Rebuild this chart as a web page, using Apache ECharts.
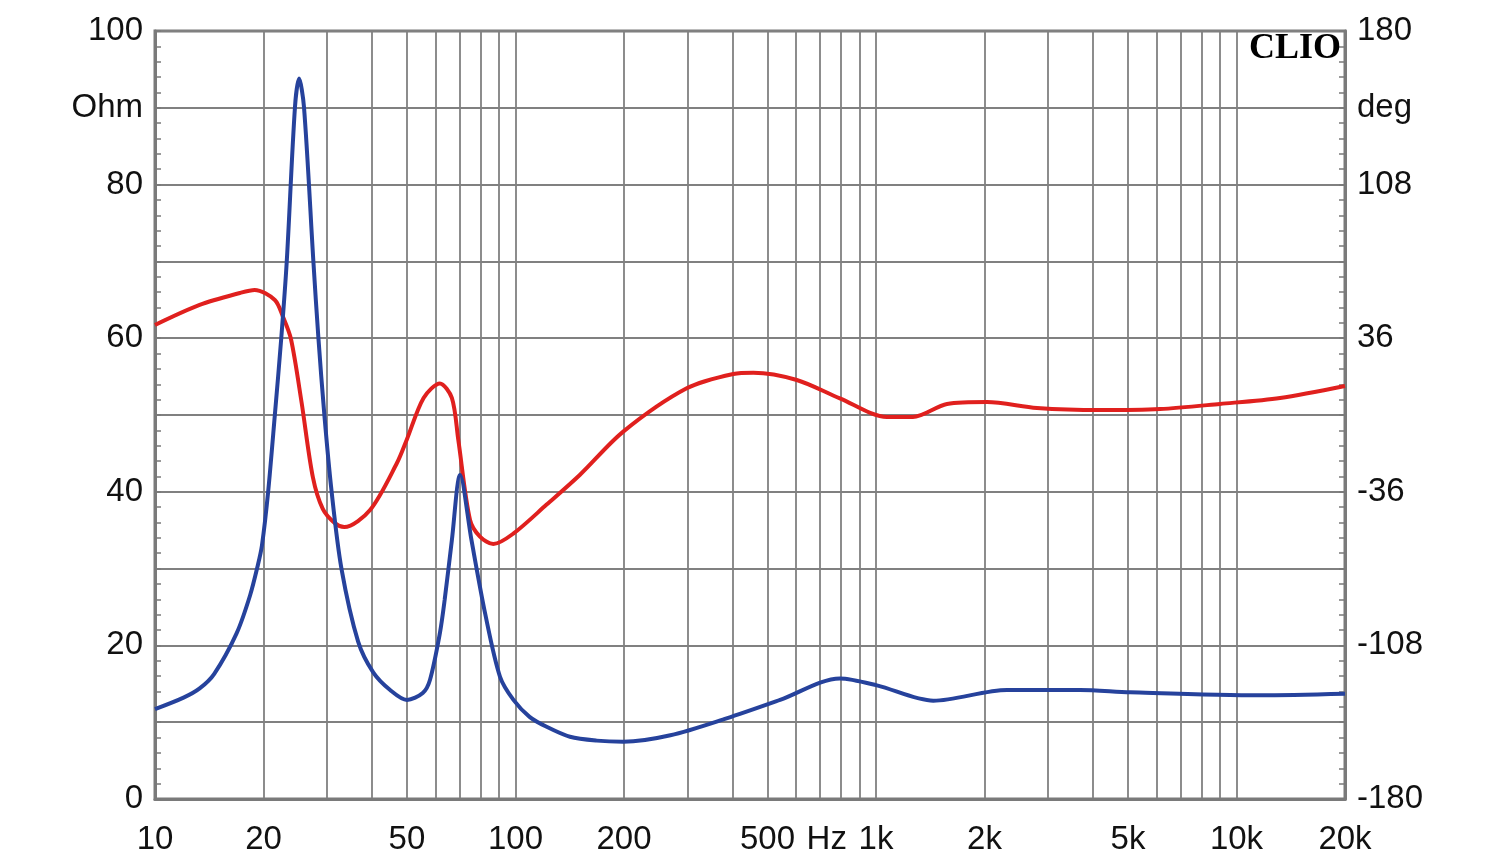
<!DOCTYPE html>
<html>
<head>
<meta charset="utf-8">
<script src="https://cdn.jsdelivr.net/npm/echarts@6/dist/echarts.min.js"></script>
<style>
html,body{margin:0;padding:0;background:#fff;}
#chart{width:1500px;height:864px;}
</style>
</head>
<body>
<div id="chart"></div>
<script>
// Impedance (Ohm) vs frequency (Hz)
const freqZ = [10, 12, 13.3, 14.6, 16.85, 18.35, 19.3, 19.8, 20.6, 21.5, 22.4, 23.2, 24.45, 25.1, 25.9, 27.5, 28.4, 29.5, 30.9, 32.9, 36.6, 40.3, 44.9, 50, 55.3, 57.9, 61.7, 63.6, 66.6, 70.2, 75.5, 82.5, 90.6, 98.7, 109.4, 122, 141.6, 168, 199, 269, 385, 542, 794, 1006, 1442, 2309, 3680, 5068, 11620, 20000];
const impedance = [11.7, 13.2, 14.4, 16.3, 21.6, 26.5, 30.5, 33, 40, 50, 60, 70, 90.1, 93.8, 90.1, 70, 60, 50, 40, 30, 20.5, 16.5, 14.2, 12.9, 13.8, 15.5, 21.6, 25.9, 33.7, 42.2, 33.7, 24, 15.9, 12.9, 10.7, 9.4, 8.1, 7.6, 7.46, 8.3, 10.5, 12.9, 15.7, 14.8, 12.8, 14.2, 14.2, 13.9, 13.5, 13.7];

// Phase (deg) vs frequency (Hz)
const freqP = [10, 13.3, 17.2, 18.9, 21.5, 22.65, 23.84, 25.5, 27.4, 29.2, 31.6, 33.5, 39.5, 46.9, 49.9, 55.6, 61.7, 66.6, 69.4, 74.8, 79.7, 86.8, 98.8, 122, 151, 199, 298.5, 402, 457, 603, 794, 1073, 1266, 1574, 2032, 2796, 4180, 6138, 8998, 13210, 20000];
const phase = [42.2, 51.6, 57.2, 58.6, 53.9, 46, 35.5, 6, -29, -44, -50.8, -52.5, -44.5, -22.5, -11.7, 8, 14.8, 8, -11.7, -49.2, -57, -60.5, -55.5, -42, -28, -7.8, 12.5, 19.2, 19.8, 16.4, 7.8, -0.9, -0.9, 5.2, 6.1, 3.3, 2.3, 2.8, 5.2, 8, 13.6];

// Axis ticks / labels
const xGridValues = [10,20,30,40,50,60,70,80,90,100,200,300,400,500,600,700,800,900,1000,2000,3000,4000,5000,6000,7000,8000,9000,10000,20000];
const xLabelValues = [10, 20, 50, 100, 200, 500, 730, 1000, 2000, 5000, 10000, 20000];
const xLabelTexts = ['10', '20', '50', '100', '200', '500', 'Hz', '1k', '2k', '5k', '10k', '20k'];
const leftLabelValues = [0, 20, 40, 60, 80, 90, 100];
const leftLabelTexts = ['0', '20', '40', '60', '80', 'Ohm', '100'];
const rightLabelValues = [-180, -108, -36, 36, 108, 144, 180];
const rightLabelTexts = ['-180', '-108', '-36', '36', '108', 'deg', '180'];

const zData = freqZ.map((f, i) => [f, impedance[i]]);
const pData = freqP.map((f, i) => [f, phase[i]]);

const gridColor = '#808080';
const axisColor = '#7a7a7a';
const labelFont = {color: '#111', fontSize: 33, fontFamily: '"Liberation Sans", Arial, sans-serif'};

const chart = echarts.init(document.getElementById('chart'), null, {renderer: 'canvas'});
chart.setOption({
  backgroundColor: '#ffffff',
  animation: false,
  grid: {left: 155, right: 155, top: 31, bottom: 65, show: true, borderColor: axisColor, borderWidth: 3, backgroundColor: 'transparent'},
  xAxis: {
    type: 'log', logBase: 10, min: 10, max: 20000,
    axisLine: {show: true, lineStyle: {color: axisColor, width: 3}},
    axisTick: {show: false, customValues: xGridValues},
    minorTick: {show: false},
    splitLine: {show: true, lineStyle: {color: gridColor, width: 1.8}},
    axisLabel: Object.assign({
      margin: 24,
      customValues: xLabelValues,
      formatter: function (v) {
        for (let i = 0; i < xLabelValues.length; i++) {
          if (Math.abs(xLabelValues[i] - v) / xLabelValues[i] < 1e-6) return xLabelTexts[i];
        }
        return '';
      }
    }, labelFont)
  },
  yAxis: [
    {
      type: 'value', min: 0, max: 100, interval: 10, position: 'left',
      axisLine: {show: true, lineStyle: {color: axisColor, width: 3}},
      axisTick: {show: true, inside: true, length: 6, lineStyle: {color: axisColor, width: 1.5}},
      minorTick: {show: true, splitNumber: 5, length: 6, lineStyle: {color: axisColor, width: 1.5}},
      splitLine: {show: true, lineStyle: {color: gridColor, width: 1.8}},
      axisLabel: Object.assign({
        margin: 12,
        formatter: function (v) {
          const i = leftLabelValues.indexOf(v);
          return i >= 0 ? leftLabelTexts[i] : '';
        }
      }, labelFont)
    },
    {
      type: 'value', min: -180, max: 180, interval: 36, position: 'right',
      axisLine: {show: true, lineStyle: {color: axisColor, width: 3}},
      axisTick: {show: true, inside: true, length: 6, lineStyle: {color: axisColor, width: 1.5}},
      minorTick: {show: true, splitNumber: 5, length: 6, lineStyle: {color: axisColor, width: 1.5}},
      splitLine: {show: false},
      axisLabel: Object.assign({
        margin: 12,
        formatter: function (v) {
          const i = rightLabelValues.indexOf(Math.round(v));
          return i >= 0 ? rightLabelTexts[i] : '';
        }
      }, labelFont)
    }
  ],
  graphic: [
    {
      type: 'text', right: 159, top: 31, z: 10,
      style: {text: 'CLIO', fill: '#000', font: 'bold 36px "Liberation Serif", "DejaVu Serif", serif', textAlign: 'right'}
    }
  ],
  series: [
    {
      name: 'Phase', type: 'line', yAxisIndex: 1, data: pData,
      showSymbol: false, smooth: 0.3,
      lineStyle: {color: '#e0201e', width: 4}, z: 3
    },
    {
      name: 'Impedance', type: 'line', yAxisIndex: 0, data: zData,
      showSymbol: false, smooth: 0.3,
      lineStyle: {color: '#26429c', width: 4}, z: 4
    }
  ]
});
</script>
</body>
</html>
